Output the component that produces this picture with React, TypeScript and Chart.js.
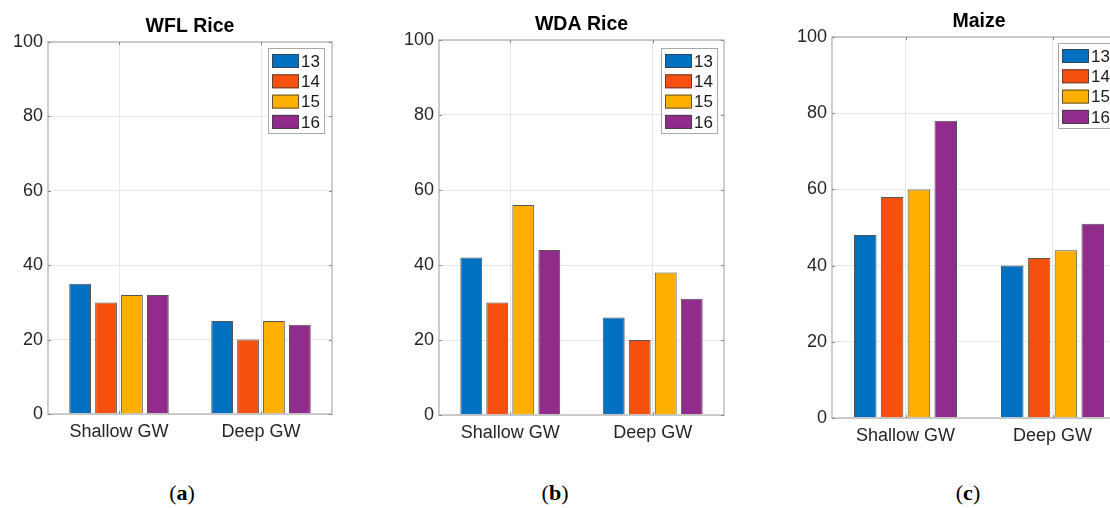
import React, { useEffect, useRef } from "react";
import { Chart, registerables } from "chart.js";
Chart.register(...registerables);

const categories = ["Shallow GW", "Deep GW"];
const seriesLabels = ["13", "14", "15", "16"];
const seriesColors = ["#0070C0", "#F5500E", "#FDB000", "#912B8C"];
const yTicks = [0, 20, 40, 60, 80, 100];

const wfl13 = [35, 25];
const wfl14 = [30, 20];
const wfl15 = [32, 25];
const wfl16 = [32, 24];

const wda13 = [42, 26];
const wda14 = [30, 20];
const wda15 = [56, 38];
const wda16 = [44, 31];

const maize13 = [48, 40];
const maize14 = [58, 42];
const maize15 = [60, 44];
const maize16 = [78, 51];

const FONT = "'Liberation Sans', Arial, Helvetica, sans-serif";

const boxPlugin = {
  id: "matlabBox",
  afterDatasetsDraw(chart: any) {
    const { ctx, chartArea: a } = chart;
    const ys = chart.scales.y;
    const xs = chart.scales.x;
    ctx.save();
    ctx.strokeStyle = "#bdbdbd";
    ctx.lineWidth = 1.5;
    ctx.strokeRect(a.left, a.top, a.right - a.left, a.bottom - a.top);
    ctx.strokeStyle = "#8a8a8a";
    ctx.lineWidth = 1;
    ctx.beginPath();
    yTicks.forEach((v) => {
      const p = Math.round(ys.getPixelForValue(v)) + 0.5;
      ctx.moveTo(a.left, p);
      ctx.lineTo(a.left + 3, p);
      ctx.moveTo(a.right, p);
      ctx.lineTo(a.right - 3, p);
    });
    categories.forEach((_, i) => {
      const p = Math.round(xs.getPixelForValue(i)) + 0.5;
      ctx.moveTo(p, a.bottom);
      ctx.lineTo(p, a.bottom - 3);
      ctx.moveTo(p, a.top);
      ctx.lineTo(p, a.top + 3);
    });
    ctx.stroke();
    ctx.restore();
  },
};

const legendPlugin = {
  id: "matlabLegend",
  afterDraw(chart: any, _args: any, opts: any) {
    const { ctx, chartArea: a } = chart;
    const w = 56;
    const h = 85;
    const right = a.right - (opts.right ?? 8);
    const left = right - w;
    const top = a.top + (opts.top ?? 6);
    ctx.save();
    ctx.fillStyle = "#ffffff";
    ctx.fillRect(left, top, w, h);
    ctx.strokeStyle = "#a8a8a8";
    ctx.lineWidth = 1;
    ctx.strokeRect(left + 0.5, top + 0.5, w, h);
    ctx.font = `17px ${FONT}`;
    ctx.textBaseline = "middle";
    ctx.textAlign = "left";
    chart.data.datasets.forEach((ds: any, i: number) => {
      const cy = top + 13 + i * 20.3;
      ctx.fillStyle = ds.backgroundColor;
      ctx.fillRect(left + 4, cy - 7, 27, 14);
      ctx.strokeStyle = "rgba(60,60,60,0.8)";
      ctx.strokeRect(left + 4.5, cy - 6.5, 26, 13);
      ctx.fillStyle = "#1a1a1a";
      ctx.fillText(ds.label, left + 33, cy + 1);
    });
    ctx.restore();
  },
};

type PanelProps = {
  title: string;
  series: number[][];
  left: number;
  width: number;
  height: number;
  padding: { left: number; right: number; top: number; bottom: number };
  legendRight: number;
  legendTop: number;
};

function Panel(props: PanelProps) {
  const ref = useRef<HTMLCanvasElement | null>(null);
  useEffect(() => {
    if (!ref.current) return;
    const chart = new Chart(ref.current, {
      type: "bar",
      data: {
        labels: categories,
        datasets: props.series.map((d, i) => ({
          label: seriesLabels[i],
          data: d,
          backgroundColor: seriesColors[i],
          borderColor: "rgba(55,55,55,0.85)",
          borderWidth: 1,
          categoryPercentage: 0.73,
          barPercentage: 0.84,
        })),
      },
      options: {
        responsive: false,
        animation: false,
        devicePixelRatio: 1,
        layout: { padding: props.padding },
        plugins: {
          legend: { display: false },
          tooltip: { enabled: false },
          title: {
            display: true,
            text: props.title,
            fullSize: false,
            color: "#000000",
            font: { family: FONT, size: 19.5, weight: "bold" },
            padding: { top: 0, bottom: 3.3 },
          },
          matlabLegend: { right: props.legendRight, top: props.legendTop },
        } as any,
        scales: {
          x: {
            grid: { offset: false, color: "#e6e6e6", drawTicks: false },
            border: { display: false },
            ticks: { font: { family: FONT, size: 18 }, color: "#262626", padding: 7 },
            afterFit: (s: any) => {
              s.height = 32;
            },
          },
          y: {
            min: 0,
            max: 100,
            afterBuildTicks: (s: any) => {
              s.ticks = yTicks.map((v) => ({ value: v }));
            },
            grid: { color: "#e6e6e6", drawTicks: false },
            border: { display: false },
            ticks: { font: { family: FONT, size: 18 }, color: "#262626", padding: 5 },
            afterFit: (s: any) => {
              s.width = 44;
            },
          },
        },
      },
      plugins: [boxPlugin, legendPlugin],
    } as any);
    return () => chart.destroy();
  }, []);
  return (
    <canvas
      ref={ref}
      width={props.width}
      height={props.height}
      style={{ position: "absolute", left: props.left, top: 0, width: props.width, height: props.height }}
    />
  );
}

const captionStyle = (cx: number): React.CSSProperties => ({
  position: "absolute",
  left: cx - 30,
  width: 60,
  top: 480,
  textAlign: "center",
  fontFamily: "'Liberation Serif', 'DejaVu Serif', serif",
  fontSize: 22,
  color: "#000",
  lineHeight: "26px",
});

export default function App() {
  return (
    <div
      style={{
        position: "fixed",
        left: 0,
        top: 0,
        width: 1110,
        height: 508,
        overflow: "hidden",
        background: "#ffffff",
      }}
    >
      <Panel
        title="WFL Rice"
        series={[wfl13, wfl14, wfl15, wfl16]}
        left={0}
        width={350}
        height={460}
        padding={{ left: 4, right: 18, top: 15.3, bottom: 14 }}
        legendRight={8}
        legendTop={6}
      />
      <Panel
        title="WDA Rice"
        series={[wda13, wda14, wda15, wda16]}
        left={390}
        width={350}
        height={460}
        padding={{ left: 5, right: 16, top: 13.3, bottom: 13 }}
        legendRight={7}
        legendTop={8}
      />
      <Panel
        title="Maize"
        series={[maize13, maize14, maize15, maize16]}
        left={780}
        width={360}
        height={460}
        padding={{ left: 8, right: 14, top: 10.3, bottom: 10 }}
        legendRight={12}
        legendTop={6}
      />
      <div style={captionStyle(182)}>
        (<b>a</b>)
      </div>
      <div style={captionStyle(555)}>
        (<b>b</b>)
      </div>
      <div style={captionStyle(968)}>
        (<b>c</b>)
      </div>
    </div>
  );
}
